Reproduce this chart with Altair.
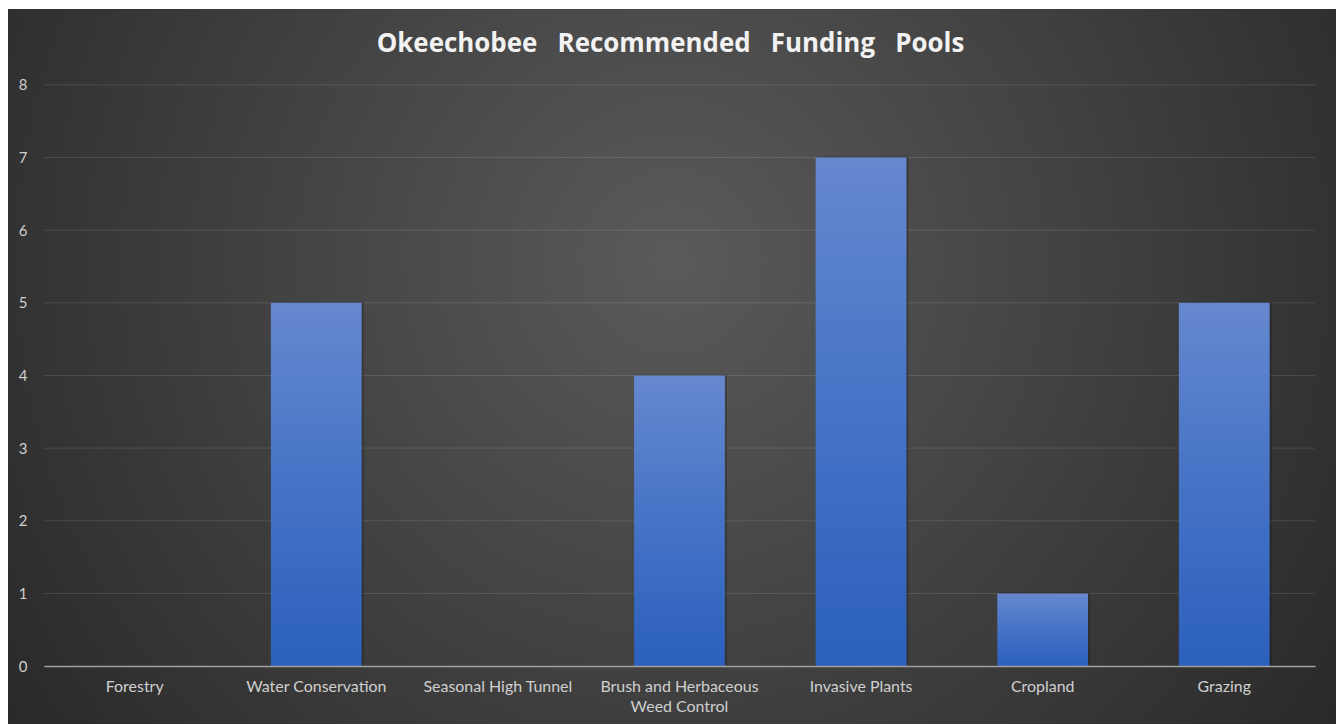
import altair as alt
import pandas as pd

categories = ["Forestry", "Water Conservation", "Seasonal High Tunnel",
              "Brush and Herbaceous Weed Control", "Invasive Plants", "Cropland", "Grazing"]
values = [0, 5, 0, 4, 7, 1, 5]
y_ticks = [0, 1, 2, 3, 4, 5, 6, 7, 8]
title_words = ["Okeechobee", "Recommended", "Funding", "Pools"]
title_text = " \u00a0\u00a0".join(title_words)

df = pd.DataFrame({"category": categories, "value": values})
grid_df = pd.DataFrame({"tick": y_ticks[1:]})

W, H = 1275, 583
PAD = {"left": 36, "top": 76, "right": 21, "bottom": 58}

bg_gradient = alt.Gradient(
    gradient="radial",
    x1=0.5, y1=0.42, r1=0,
    x2=0.5, y2=0.42, r2=0.7,
    stops=[alt.GradientStop(color="#5a5a5a", offset=0),
           alt.GradientStop(color="#222222", offset=1)],
)

bar_gradient = alt.Gradient(
    gradient="linear",
    x1=0, y1=0, x2=0, y2=1,
    stops=[alt.GradientStop(color="#6688cf", offset=0),
           alt.GradientStop(color="#4573c6", offset=0.5),
           alt.GradientStop(color="#2c60bd", offset=1)],
)

y_scale = alt.Scale(domain=[0, 8])
x_scale = alt.Scale(paddingInner=0.5, paddingOuter=0.25)
y_axis = alt.Axis(values=y_ticks, labelFont="Lato", labelFontSize=15, labelColor="#d0d0d0",
                  labelPadding=17, ticks=False, domain=False, grid=False, zindex=1)

background = alt.Chart(pd.DataFrame({"a": [0]})).mark_rect(fill=bg_gradient, clip=False).encode(
    x=alt.value(-PAD["left"]), x2=alt.value(W + PAD["right"]),
    y=alt.value(-PAD["top"]), y2=alt.value(H + PAD["bottom"]),
)

grid = alt.Chart(grid_df).mark_rule(color="#ffffff", opacity=0.12, strokeWidth=1).encode(
    y=alt.Y("tick:Q", scale=y_scale, axis=y_axis, title=None),
)

x_axis = alt.Axis(
    labelAngle=0, labelFont="Lato", labelFontSize=16, labelColor="#d0d0d0",
    labelPadding=12, labelLimit=400, labelLineHeight=21,
    labelExpr="datum.value == 'Brush and Herbaceous Weed Control' ? ['Brush and Herbaceous', 'Weed Control'] : datum.label",
    ticks=False, domainColor="#a0a0a0", domainWidth=1.5, grid=False, zindex=1)

shadow = alt.Chart(df).mark_bar(fill="#000000", opacity=0.22, xOffset=2, yOffset=-1).encode(
    x=alt.X("category:N", sort=categories, title=None, scale=x_scale, axis=x_axis),
    y=alt.Y("value:Q", title=None, scale=y_scale, axis=y_axis),
)

bars = alt.Chart(df).mark_bar(fill=bar_gradient).encode(
    x=alt.X("category:N", sort=categories, title=None, scale=x_scale, axis=x_axis),
    y=alt.Y("value:Q", title=None, scale=y_scale, axis=y_axis),
)

chart = alt.layer(background, grid, shadow, bars).properties(
    width=W, height=H,
    autosize=alt.AutoSizeParams(type="none"),
    padding=PAD,
    background="white",
    title=alt.TitleParams(text=title_text, font="Open Sans", fontSize=26, fontWeight="bold",
                          color="#f2f2f2", anchor="middle",
                          offset=-48, dx=-9, zindex=1),
).configure_view(stroke="transparent")

chart.save("out.html", embed_options={"renderer": "svg", "actions": False})
